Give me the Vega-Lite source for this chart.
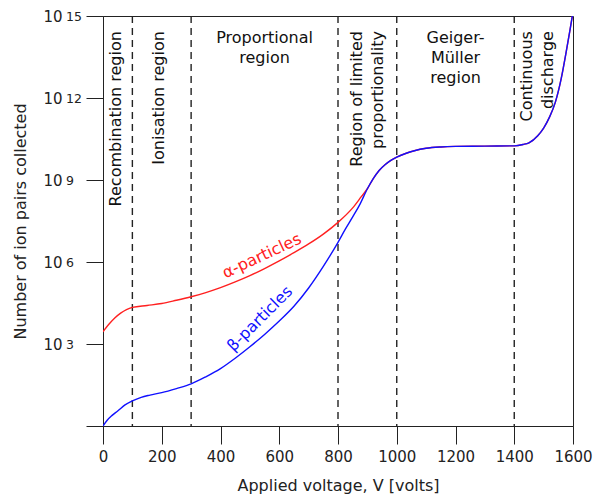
{
  "$schema": "https://vega.github.io/schema/vega-lite/v6.json",
  "autosize": "none",
  "width": 470,
  "height": 410,
  "padding": {"left": 103, "top": 16, "right": 21, "bottom": 71},
  "config": {
    "font": "DejaVu Sans",
    "view": {"stroke": "#222", "strokeWidth": 1},
    "axis": {"domainColor": "#222", "tickColor": "#222", "labelColor": "#222", "titleColor": "#222", "grid": false, "labelFontSize": 15, "titleFontSize": 16, "titleFontWeight": "normal"}
  },
  "resolve": {"axis": {"y": "independent"}},
  "datasets": {
    "alpha": [
      {"V": 0, "pairs": 2818}, {"V": 20, "pairs": 5248}, {"V": 40, "pairs": 8913}, {"V": 60, "pairs": 13490},
      {"V": 80, "pairs": 18197}, {"V": 100, "pairs": 21878}, {"V": 150, "pairs": 25704}, {"V": 200, "pairs": 30200},
      {"V": 250, "pairs": 39811}, {"V": 300, "pairs": 53703}, {"V": 350, "pairs": 75858}, {"V": 400, "pairs": 114815},
      {"V": 450, "pairs": 186209}, {"V": 500, "pairs": 316228}, {"V": 550, "pairs": 575440}, {"V": 600, "pairs": 1096478},
      {"V": 650, "pairs": 2187762}, {"V": 700, "pairs": 4570882}, {"V": 750, "pairs": 10471285}, {"V": 800, "pairs": 28183829},
      {"V": 850, "pairs": 95499259}, {"V": 880, "pairs": 251188643}, {"V": 900, "pairs": 478630092}, {"V": 920, "pairs": 1122018454},
      {"V": 940, "pairs": 2238721139}, {"V": 960, "pairs": 3630780548}, {"V": 980, "pairs": 5248074602}, {"V": 1000, "pairs": 6918309709},
      {"V": 1030, "pairs": 9332543008}, {"V": 1060, "pairs": 11748975549}, {"V": 1100, "pairs": 14454397707}, {"V": 1150, "pairs": 16218100974},
      {"V": 1200, "pairs": 16982436525}, {"V": 1300, "pairs": 17378008287}, {"V": 1400, "pairs": 17782794100}, {"V": 1430, "pairs": 19952623150},
      {"V": 1450, "pairs": 22908676528}, {"V": 1480, "pairs": 41686938347}, {"V": 1500, "pairs": 79432823472}, {"V": 1520, "pairs": 199526231497},
      {"V": 1540, "pairs": 707945784384}, {"V": 1560, "pairs": 5248074602497}, {"V": 1578, "pairs": 57543993733715}, {"V": 1590, "pairs": 316227766016838},
      {"V": 1600, "pairs": 1412537544622754}
    ],
    "beta": [
      {"V": 0, "pairs": 1}, {"V": 15, "pairs": 1.66}, {"V": 30, "pairs": 2.4}, {"V": 50, "pairs": 3.55},
      {"V": 75, "pairs": 5.89}, {"V": 100, "pairs": 8.32}, {"V": 130, "pairs": 11.2}, {"V": 160, "pairs": 13.5},
      {"V": 200, "pairs": 16.6}, {"V": 250, "pairs": 23.4}, {"V": 300, "pairs": 34.7}, {"V": 350, "pairs": 63.1},
      {"V": 400, "pairs": 125.9}, {"V": 450, "pairs": 302}, {"V": 500, "pairs": 794}, {"V": 550, "pairs": 2239},
      {"V": 600, "pairs": 6918}, {"V": 650, "pairs": 23988}, {"V": 700, "pairs": 112202}, {"V": 750, "pairs": 691831},
      {"V": 800, "pairs": 5248075}, {"V": 825, "pairs": 15848932}, {"V": 850, "pairs": 44668359}, {"V": 875, "pairs": 131825674},
      {"V": 900, "pairs": 478630092}, {"V": 920, "pairs": 1122018454},
      {"V": 940, "pairs": 2238721139}, {"V": 960, "pairs": 3630780548}, {"V": 980, "pairs": 5248074602}, {"V": 1000, "pairs": 6918309709},
      {"V": 1030, "pairs": 9332543008}, {"V": 1060, "pairs": 11748975549}, {"V": 1100, "pairs": 14454397707}, {"V": 1150, "pairs": 16218100974},
      {"V": 1200, "pairs": 16982436525}, {"V": 1300, "pairs": 17378008287}, {"V": 1400, "pairs": 17782794100}, {"V": 1430, "pairs": 19952623150},
      {"V": 1450, "pairs": 22908676528}, {"V": 1480, "pairs": 41686938347}, {"V": 1500, "pairs": 79432823472}, {"V": 1520, "pairs": 199526231497},
      {"V": 1540, "pairs": 707945784384}, {"V": 1560, "pairs": 5248074602497}, {"V": 1578, "pairs": 57543993733715}, {"V": 1590, "pairs": 316227766016838},
      {"V": 1600, "pairs": 1412537544622754}
    ],
    "dividers": [{"V": 100}, {"V": 300}, {"V": 800}, {"V": 1000}, {"V": 1400}],
    "vlabels": [
      {"text": "Recombination region", "V": 45, "pairs": 2.8e14},
      {"text": "Ionisation region", "V": 190, "pairs": 2.8e14},
      {"text": "Region of limited\nproportionality", "V": 864, "pairs": 2.8e14},
      {"text": "Continuous\ndischarge", "V": 1443, "pairs": 2.8e14}
    ],
    "hlabels": [
      {"text": "Proportional\nregion", "V": 550, "pairs": 3.2e14},
      {"text": "Geiger-\nMüller\nregion", "V": 1200, "pairs": 3.2e14}
    ],
    "alphaLabel": [{"text": "α-particles", "V": 541, "pairs": 1660000}],
    "betaLabel": [{"text": "β-particles", "V": 534, "pairs": 8300}]
  },
  "layer": [
    {
      "data": {"name": "dividers"},
      "mark": {"type": "rule", "strokeDash": [7, 5], "color": "#222", "strokeWidth": 1.4},
      "encoding": {"x": {"field": "V", "type": "quantitative"}}
    },
    {
      "data": {"name": "alpha"},
      "mark": {"type": "line", "color": "#ff2020", "strokeWidth": 1.4, "interpolate": "monotone", "clip": true},
      "encoding": {
        "x": {
          "field": "V", "type": "quantitative",
          "scale": {"domain": [0, 1600], "nice": false},
          "axis": {
            "values": [0, 100, 200, 300, 400, 500, 600, 700, 800, 900, 1000, 1100, 1200, 1300, 1400, 1500, 1600],
            "labelExpr": "datum.value % 200 == 0 ? datum.label : ''",
            "format": "d",
            "tickSize": {"condition": {"test": "datum.value % 200 == 0", "value": 18}, "value": 11},
            "labelPadding": 5,
            "labelFlush": false,
            "labelOverlap": false,
            "labelBound": false,
            "title": "Applied voltage, V [volts]",
            "titlePadding": 13
          }
        },
        "y": {
          "field": "pairs", "type": "quantitative",
          "scale": {"type": "log", "domain": [1, 1e15], "nice": false},
          "axis": {
            "orient": "left",
            "values": [1, 1000, 1000000, 1000000000, 1000000000000, 1000000000000000],
            "labelExpr": "datum.value >= 100 ? '10' : ''",
            "labelOverlap": false,
            "labelDy": 1.5,
            "tickSize": 17,
            "labelPadding": 24,
            "title": "Number of ion pairs collected",
            "titlePadding": 14
          }
        }
      }
    },
    {
      "data": {"name": "beta"},
      "mark": {"type": "line", "color": "#1010ff", "strokeWidth": 1.4, "interpolate": "monotone", "clip": true},
      "encoding": {
        "x": {"field": "V", "type": "quantitative"},
        "y": {
          "field": "pairs", "type": "quantitative",
          "axis": {
            "orient": "left",
            "values": [1000, 1000000, 1000000000, 1000000000000, 1000000000000000],
            "labelExpr": "datum.value >= 1e14 ? '15' : datum.value >= 1e11 ? '12' : datum.value >= 1e8 ? '9' : datum.value >= 1e5 ? '6' : '3'",
            "labelOverlap": false,
            "labelAlign": "left",
            "labelFontSize": 12.5,
            "labelDy": -3.5,
            "ticks": false,
            "domain": false,
            "labelPadding": 37.5,
            "title": null
          }
        }
      }
    },
    {
      "data": {"name": "vlabels"},
      "mark": {"type": "text", "angle": 270, "align": "right", "baseline": "middle", "fontSize": 16, "lineBreak": "\n", "lineHeight": 21.5, "color": "#111"},
      "encoding": {
        "x": {"field": "V", "type": "quantitative"},
        "y": {"field": "pairs", "type": "quantitative", "axis": null},
        "text": {"field": "text"}
      }
    },
    {
      "data": {"name": "hlabels"},
      "mark": {"type": "text", "align": "center", "baseline": "top", "fontSize": 16, "lineBreak": "\n", "lineHeight": 20, "color": "#111"},
      "encoding": {
        "x": {"field": "V", "type": "quantitative"},
        "y": {"field": "pairs", "type": "quantitative", "axis": null},
        "text": {"field": "text"}
      }
    },
    {
      "data": {"name": "alphaLabel"},
      "mark": {"type": "text", "angle": 335, "align": "center", "baseline": "middle", "fontSize": 16, "color": "#ff2020"},
      "encoding": {
        "x": {"field": "V", "type": "quantitative"},
        "y": {"field": "pairs", "type": "quantitative", "axis": null},
        "text": {"field": "text"}
      }
    },
    {
      "data": {"name": "betaLabel"},
      "mark": {"type": "text", "angle": 315, "align": "center", "baseline": "middle", "fontSize": 16, "color": "#1010ff"},
      "encoding": {
        "x": {"field": "V", "type": "quantitative"},
        "y": {"field": "pairs", "type": "quantitative", "axis": null},
        "text": {"field": "text"}
      }
    }
  ]
}
